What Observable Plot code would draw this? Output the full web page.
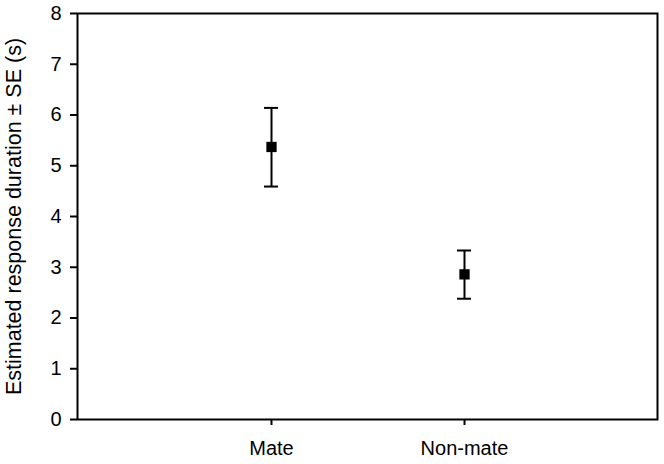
<!DOCTYPE html>
<html>
<head>
<meta charset="utf-8">
<script src="https://cdn.jsdelivr.net/npm/d3@7"></script>
<script src="https://cdn.jsdelivr.net/npm/@observablehq/plot@0.6"></script>
<style>
  html, body { margin: 0; padding: 0; background: #fff; }
  svg { font-family: "Liberation Sans", Arial, sans-serif; }
  g[aria-label="y-axis label"] { font-size: 21.5px; }
</style>
</head>
<body>
<div id="chart"></div>
<script>
const groups = ["Mate", "Non-mate"];
const means = [5.37, 2.86];
const lowers = [4.59, 2.38];
const uppers = [6.14, 3.33];
const yTicks = [0, 1, 2, 3, 4, 5, 6, 7, 8];

const data = groups.map((g, i) => ({ group: g, mean: means[i], lo: lowers[i], hi: uppers[i] }));

const chart = Plot.plot({
  width: 664,
  height: 464,
  marginLeft: 77,
  marginRight: 7,
  marginTop: 13,
  marginBottom: 45,
  style: { fontFamily: "'Liberation Sans', Arial, sans-serif", fontSize: "20px", color: "#000", background: "#fff" },
  x: { type: "point", domain: groups, padding: 1 },
  y: { domain: [0, 8] },
  marks: [
    Plot.axisY({ ticks: yTicks, tickSize: 7, tickPadding: 9, fontSize: 20, strokeWidth: 2,
      label: "Estimated response duration ± SE (s)", labelAnchor: "center", labelArrow: "none",
      labelOffset: 72, tickFormat: d3.format("d") }),
    Plot.axisX({ tickSize: 6, tickPadding: 15, fontSize: 20, strokeWidth: 2, label: null }),
    Plot.frame({ strokeWidth: 2 }),
    Plot.ruleX(data, { x: "group", y1: "lo", y2: "hi", strokeWidth: 2 }),
    Plot.ruleY(data, { x1: "group", x2: "group", y: "hi", insetLeft: -7, insetRight: -7, strokeWidth: 2 }),
    Plot.ruleY(data, { x1: "group", x2: "group", y: "lo", insetLeft: -7, insetRight: -7, strokeWidth: 2 }),
    Plot.dot(data, { x: "group", y: "mean", symbol: "square", r: 5.8, fill: "#000", stroke: "none" })
  ]
});
document.getElementById("chart").appendChild(chart);
</script>
</body>
</html>
